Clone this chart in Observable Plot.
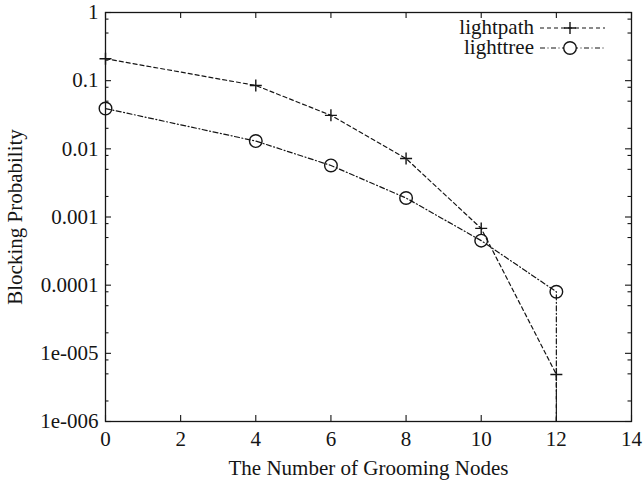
<!DOCTYPE html>
<html><head><meta charset="utf-8">
<script src="https://cdn.jsdelivr.net/npm/d3@7"></script>
<script src="https://cdn.jsdelivr.net/npm/@observablehq/plot@0.6"></script>
<style>
body{margin:0;background:#fff}
#wrap{position:relative;width:644px;height:480px}
#legend{position:absolute;left:0;top:0;pointer-events:none}
</style>
</head><body><div id="wrap"></div><script>
// ---- data ----
const groomingNodes = [0, 4, 6, 8, 10, 12];
const lightpath = [0.21, 0.085, 0.031, 0.0072, 0.00068, 0.0000049];
const lighttree = [0.039, 0.013, 0.0057, 0.0019, 0.00045, 0.00008];
// both curves drop below the axis floor at the last node
const dropNode = 12;
const dropValue = 1e-8;
const seriesNames = ["lightpath", "lighttree"];
const xTicks = [0, 2, 4, 6, 8, 10, 12, 14];
const yTicks = [1, 0.1, 0.01, 0.001, 0.0001, 0.00001, 0.000001];
const yTickLabels = ["1", "0.1", "0.01", "0.001", "0.0001", "1e-005", "1e-006"];
const yMinorFactors = [0.8, 0.5, 0.2];

// ---- build tables ----
const pathRows = groomingNodes.map((x, i) => ({x, y: lightpath[i], series: seriesNames[0]}));
const treeRows = groomingNodes.map((x, i) => ({x, y: lighttree[i], series: seriesNames[1]}));
const pathLine = [...pathRows, {x: dropNode, y: dropValue, series: seriesNames[0]}];
const treeLine = [...treeRows, {x: dropNode, y: dropValue, series: seriesNames[1]}];
const yMinor = yTicks.slice(0, -1).flatMap(t => yMinorFactors.map(f => t * f));
const yLabelMap = new Map(yTicks.map((t, i) => [t, yTickLabels[i]]));

const W = 644, H = 480, ML = 105, MR = 13, MT = 12, MB = 59;
const FW = W - ML - MR, FH = H - MT - MB;
const ink = "#151515";
const font = "'Liberation Serif', 'Times New Roman', serif";
const dashPath = "4,3";
const dashTree = "5,2.5,1,2.5";

const plusSymbol = {
  draw(ctx, size) {
    const r = Math.sqrt(size / Math.PI);
    ctx.moveTo(-r, 0); ctx.lineTo(r, 0);
    ctx.moveTo(0, -r); ctx.lineTo(0, r);
  }
};

const chart = Plot.plot({
  width: W, height: H,
  marginLeft: ML, marginRight: MR, marginTop: MT, marginBottom: MB,
  style: {fontFamily: font, fontSize: "21px", background: "#fff", color: ink},
  x: {domain: [0, 14]},
  y: {type: "log", domain: [1e-6, 1]},
  marks: [
    // tick labels + axis titles
    Plot.axisX({ticks: xTicks, tickSize: 0, tickPadding: 10, tickFormat: d => String(d),
      label: "The Number of Grooming Nodes", labelAnchor: "center", labelOffset: 53, labelArrow: "none"}),
    Plot.axisY({ticks: yTicks, tickSize: 0, tickPadding: 7, tickFormat: d => yLabelMap.get(d),
      label: "Blocking Probability", labelAnchor: "center", labelOffset: 98, labelArrow: "none"}),
    // inward ticks
    Plot.tickX(xTicks, {x: d => d, insetTop: FH - 6, stroke: ink, strokeWidth: 1.1}),
    Plot.tickX(xTicks, {x: d => d, insetBottom: FH - 6, stroke: ink, strokeWidth: 1.1}),
    Plot.tickY(yTicks, {y: d => d, insetRight: FW - 6, stroke: ink, strokeWidth: 1.1}),
    Plot.tickY(yTicks, {y: d => d, insetLeft: FW - 6, stroke: ink, strokeWidth: 1.1}),
    Plot.tickY(yMinor, {y: d => d, insetRight: FW - 3.5, stroke: ink, strokeWidth: 1.1}),
    Plot.tickY(yMinor, {y: d => d, insetLeft: FW - 3.5, stroke: ink, strokeWidth: 1.1}),
    // series
    Plot.line(pathLine, {x: "x", y: "y", stroke: ink, strokeWidth: 1.2, strokeDasharray: dashPath, clip: true}),
    Plot.line(treeLine, {x: "x", y: "y", stroke: ink, strokeWidth: 1.2, strokeDasharray: dashTree, clip: true}),
    Plot.dot(pathRows, {x: "x", y: "y", symbol: plusSymbol, r: 6, stroke: ink, strokeWidth: 1.4}),
    Plot.dot(treeRows, {x: "x", y: "y", symbol: "circle", r: 6.3, fill: "none", stroke: ink, strokeWidth: 1.4}),
    Plot.frame({stroke: ink, strokeWidth: 1.3})
  ]
});
const wrap = document.getElementById("wrap");
wrap.appendChild(chart);

// ---- legend (top-right, inside frame) ----
const legend = d3.select(wrap).append("svg").attr("id", "legend").attr("width", W).attr("height", H);
const legItems = [
  {name: seriesNames[0], dash: dashPath, sym: "plus", y: 28},
  {name: seriesNames[1], dash: dashTree, sym: "circle", y: 48}
];
legItems.forEach(it => {
  const g = legend.append("g");
  g.append("text").attr("x", 534).attr("y", it.y).attr("text-anchor", "end").attr("dy", "0.3em")
    .attr("font-family", font).attr("font-size", 21).attr("fill", ink).text(it.name);
  g.append("line").attr("x1", 540).attr("x2", 605).attr("y1", it.y).attr("y2", it.y)
    .attr("stroke", ink).attr("stroke-width", 1.2).attr("stroke-dasharray", it.dash);
  if (it.sym === "plus") {
    g.append("path").attr("d", `M564,${it.y}h12M570,${it.y - 6}v12`).attr("stroke", ink).attr("stroke-width", 1.4);
  } else {
    g.append("circle").attr("cx", 570).attr("cy", it.y).attr("r", 6.3).attr("fill", "#fff").attr("stroke", ink).attr("stroke-width", 1.4);
  }
});
</script></body></html>
